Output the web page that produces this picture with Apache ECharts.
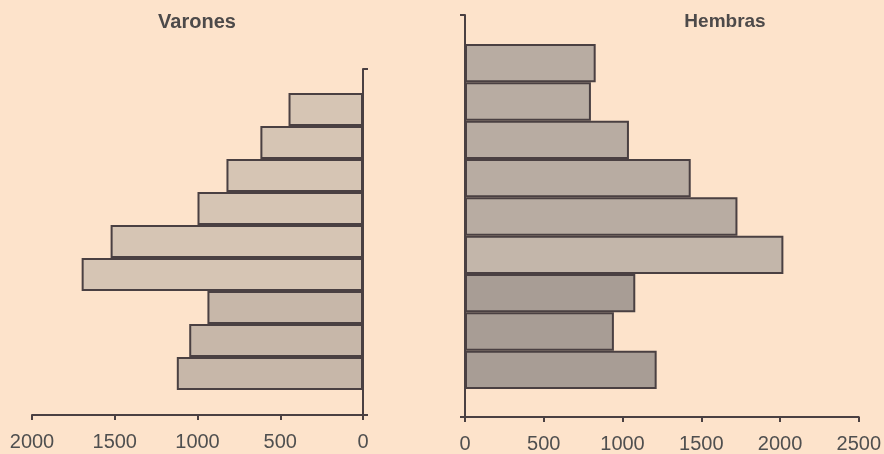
<!DOCTYPE html>
<html>
<head>
<meta charset="utf-8">
<script src="https://cdn.jsdelivr.net/npm/echarts@6/dist/echarts.min.js"></script>
<style>
html,body{margin:0;padding:0;background:#fde3cb;}
#c{width:884px;height:454px;}
</style>
</head>
<body>
<div id="c"></div>
<script>
// Age groups, top to bottom (labels not shown in the reference)
const categories = ['g1','g2','g3','g4','g5','g6','g7','g8','g9'];
const varones = [450, 620, 825, 1000, 1525, 1700, 940, 1050, 1125];
const hembras = [825, 795, 1035, 1425, 1720, 2010, 1075, 940, 1210];
const leftTicks = [0, 500, 1000, 1500, 2000];
const rightTicks = [0, 500, 1000, 1500, 2000, 2500];
const titles = ['Varones', 'Hembras'];

const edge = '#4a4042';
const labelColor = '#4f4f4f';
const leftColors = function (p) { return p.dataIndex >= 6 ? '#c7b7a9' : '#d6c5b4'; };
const rightColors = function (p) {
  if (p.dataIndex >= 6) return '#a89d95';
  if (p.dataIndex === 5) return '#c3b6aa';
  return '#b8aca2';
};

const chart = echarts.init(document.getElementById('c'));

function axisX(gridIndex, ticks, inverse, show) {
  return {
    type: 'value', gridIndex: gridIndex, min: ticks[0], max: ticks[ticks.length - 1],
    interval: ticks[1] - ticks[0], inverse: inverse,
    show: show,
    axisLine: {show: true, lineStyle: {color: edge, width: 2}},
    axisTick: {show: true, length: 5, lineStyle: {color: edge, width: 2}},
    axisLabel: {show: true, color: labelColor, fontSize: 20, fontFamily: 'Liberation Sans, Arial', margin: 17,
                formatter: function (v) { return String(v); }},
    splitLine: {show: false}
  };
}

chart.setOption({
  backgroundColor: '#fde3cb',
  animation: false,
  graphic: [
    {type: 'text', style: {text: titles[0], x: 197, y: 22, textAlign: 'center', textVerticalAlign: 'middle', fill: '#4d4a4a', font: 'bold 20px "Liberation Sans", Arial'}},
    {type: 'text', style: {text: titles[1], x: 725, y: 22, textAlign: 'center', textVerticalAlign: 'middle', fill: '#4d4a4a', font: 'bold 19px "Liberation Sans", Arial'}}
  ],
  grid: [
    {left: 32, width: 331, top: 69, height: 346},   // left axes frame
    {left: 32, width: 331, top: 93, height: 297},   // left bars
    {left: 465, width: 396, top: 15, height: 404},  // right axes frame
    {left: 465, width: 396, top: 44, height: 345}   // right bars
  ],
  xAxis: [
    axisX(0, leftTicks, true, true),
    axisX(1, leftTicks, true, false),
    axisX(2, rightTicks, false, true),
    axisX(3, rightTicks, false, false)
  ],
  yAxis: [
    {type: 'value', gridIndex: 0, min: 0, max: 1, interval: 1, position: 'right',
     axisLine: {show: true, lineStyle: {color: edge, width: 2}},
     axisTick: {show: true, length: 5, lineStyle: {color: edge, width: 2}},
     axisLabel: {show: false}, splitLine: {show: false}},
    {type: 'category', gridIndex: 1, data: categories, inverse: true, show: false},
    {type: 'value', gridIndex: 2, min: 0, max: 1, interval: 1, position: 'left',
     axisLine: {show: true, lineStyle: {color: edge, width: 2}},
     axisTick: {show: true, length: 5, lineStyle: {color: edge, width: 2}},
     axisLabel: {show: false}, splitLine: {show: false}},
    {type: 'category', gridIndex: 3, data: categories, inverse: true, show: false}
  ],
  series: [
    {name: titles[0], type: 'bar', xAxisIndex: 1, yAxisIndex: 1, data: varones,
     barCategoryGap: 0, itemStyle: {color: leftColors, borderColor: edge, borderWidth: 2}},
    {name: titles[1], type: 'bar', xAxisIndex: 3, yAxisIndex: 3, data: hembras,
     barCategoryGap: 0, itemStyle: {color: rightColors, borderColor: edge, borderWidth: 2}}
  ]
});
</script>
</body>
</html>
